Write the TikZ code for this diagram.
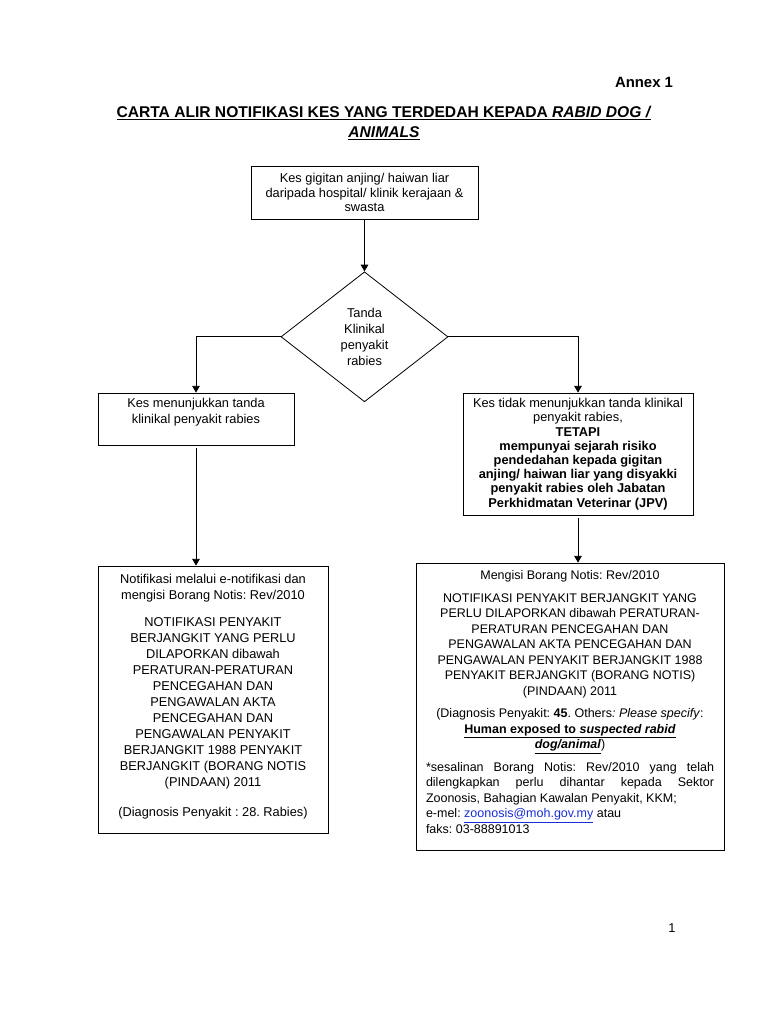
\documentclass[tikz,border=0pt]{standalone}
\usepackage{fontspec}
\setmainfont{Liberation Sans}
\usepackage{xcolor}
\usetikzlibrary{shapes.geometric}
\usetikzlibrary{arrows}
\usetikzlibrary{positioning}
\definecolor{linkblue}{RGB}{25,45,215}
\frenchspacing

\begin{document}
\begin{tikzpicture}[
            x=1pt, y=-1pt,
            every node/.style={font=\fontsize{12.8}{15.6}\selectfont, align=center, inner sep=0pt},
            box/.style={draw=black, line width=0.8pt, rectangle},
            decision/.style={draw=black, line width=0.8pt, diamond, minimum width=167pt, minimum height=130pt},
            line/.style={draw, line width=0.8pt, -triangle 60}
        ]
            \useasboundingbox[fill=white] (0,0) rectangle (768,1024);
            \node [font=\fontsize{14.9}{17}\selectfont\bfseries] (annex) at (644,82) {Annex 1};
            \node [font=\fontsize{15.6}{20}\selectfont\bfseries] (title) at (384,123)
                {\underline{CARTA ALIR NOTIFIKASI KES YANG TERDEDAH KEPADA \textit{RABID DOG /}}\\ \underline{\textit{ANIMALS}}};
            \node [box, minimum width=227pt, minimum height=53pt, font=\fontsize{12.8}{14.6}\selectfont] (kes) at (364.5,192.5)
                {Kes gigitan anjing/ haiwan liar\\ daripada hospital/ klinik kerajaan \&\\ swasta};
            \node [decision, below=52pt of kes, font=\fontsize{12.8}{16}\selectfont] (tanda) {Tanda\\ Klinikal\\ penyakit\\ rabies};
            \node [box, minimum width=196pt, minimum height=52pt, text depth=16pt, font=\fontsize{12.8}{16.5}\selectfont] (klinikal) at (196,419)
                {Kes menunjukkan tanda\\ klinikal penyakit rabies};
            \node [box, minimum width=230pt, minimum height=122pt, font=\fontsize{12.8}{14.2}\selectfont] (tidak) at (578,454)
                {Kes tidak menunjukkan tanda klinikal\\ penyakit rabies,\\ \textbf{TETAPI}\\ \textbf{mempunyai sejarah risiko}\\
                 \textbf{pendedahan kepada gigitan}\\ \textbf{anjing/ haiwan liar yang disyakki}\\
                 \textbf{penyakit rabies oleh Jabatan}\\ \textbf{Perkhidmatan Veterinar (JPV)}};
            \node [box, minimum width=230pt, minimum height=267pt, text depth=9pt, font=\fontsize{12.8}{16}\selectfont] (enotis) at (213,699.5)
                {Notifikasi melalui e-notifikasi dan\\ mengisi Borang Notis: Rev/2010\\[11pt]
                 NOTIFIKASI PENYAKIT\\ BERJANGKIT YANG PERLU\\ DILAPORKAN dibawah\\ PERATURAN-PERATURAN\\
                 PENCEGAHAN DAN\\ PENGAWALAN AKTA\\ PENCEGAHAN DAN\\ PENGAWALAN PENYAKIT\\
                 BERJANGKIT 1988 PENYAKIT\\ BERJANGKIT (BORANG NOTIS\\ (PINDAAN) 2011\\[14pt]
                 (Diagnosis Penyakit : 28. Rabies)};
            \node [box, minimum width=308pt, minimum height=287pt, font=\fontsize{12.5}{15.5}\selectfont] (borang) at (570,706.5)
                {Mengisi Borang Notis: Rev/2010\\[7pt]
                 NOTIFIKASI PENYAKIT BERJANGKIT YANG\\ PERLU DILAPORKAN dibawah PERATURAN-\\
                 PERATURAN PENCEGAHAN DAN\\ PENGAWALAN AKTA PENCEGAHAN DAN\\
                 PENGAWALAN PENYAKIT BERJANGKIT 1988\\ PENYAKIT BERJANGKIT (BORANG NOTIS)\\
                 (PINDAAN) 2011\\[7pt]
                 (Diagnosis Penyakit: \textbf{45}. Others\textit{: Please specify}:\\
                 \underline{\textbf{Human exposed to \textit{suspected rabid}}}\\
                 \underline{\textbf{\textit{dog/animal}}})\\[7pt]
                 \parbox[t]{288pt}{*sesalinan Borang Notis: Rev/2010 yang telah\linebreak
                 dilengkapkan perlu dihantar kepada Sektor\linebreak
                 Zoonosis, Bahagian Kawalan Penyakit, KKM;\\
                 e-mel: \textcolor{linkblue}{\underline{zoonosis@moh.gov.my}} atau\\
                 faks: 03-88891013\par\vspace*{9pt}}};
            \node (page) at (672,928) {1};
            \path [line] (kes) -- (tanda);
            \path [line] (tanda.west) -| (klinikal.north);
            \path [line] (tanda.east) -| (tidak.north);
            \path [line, shorten <=3pt] (klinikal.south) -- (klinikal.south |- enotis.north);
            \path [line, shorten <=3pt] (tidak.south) -- (tidak.south |- borang.north);
        \end{tikzpicture}
\end{document}
